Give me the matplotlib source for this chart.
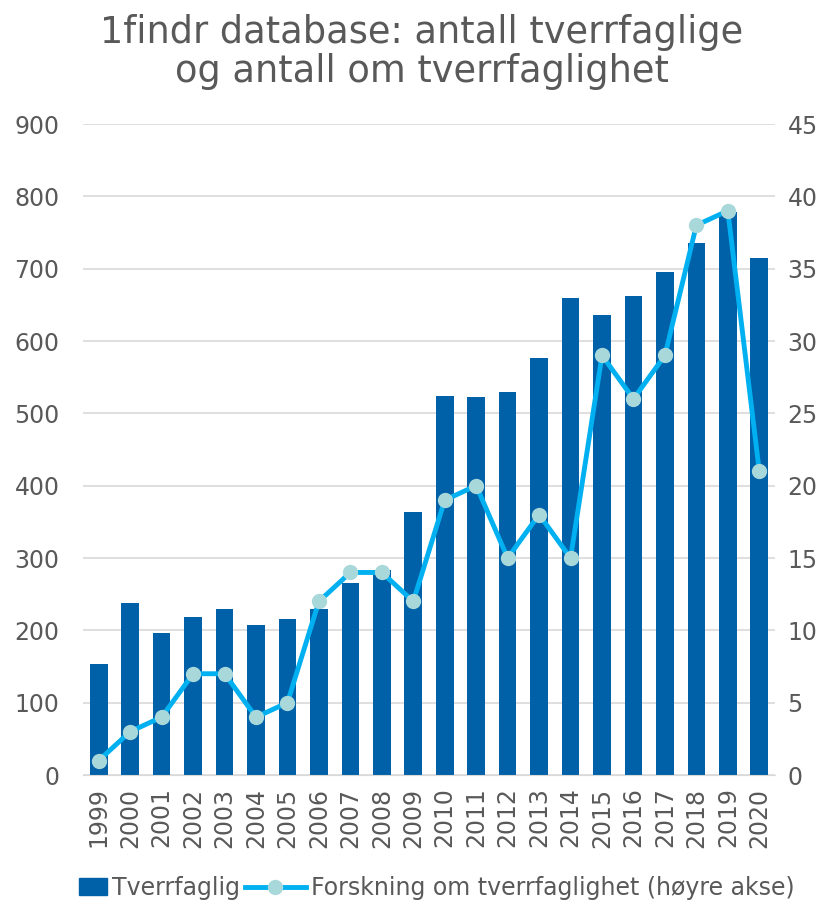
import numpy as np
import matplotlib.pyplot as plt
from matplotlib.lines import Line2D
from matplotlib.patches import Patch, Rectangle
from matplotlib.legend_handler import HandlerPatch

years = [str(y) for y in range(1999, 2021)]
tverrfaglig = [153, 238, 197, 219, 229, 208, 216, 229, 265, 283, 364,
               524, 522, 530, 577, 660, 636, 662, 695, 736, 779, 715]
forskning = [1, 3, 4, 7, 7, 4, 5, 12, 14, 14, 12,
             19, 20, 15, 18, 15, 29, 26, 29, 38, 39, 21]

gray = '#595959'
bar_color = '#0060A8'
line_color = '#00B0F0'
marker_color = '#A9D8DA'

fig = plt.figure(figsize=(8.31, 9.05), dpi=100)
ax = fig.add_axes([83 / 831, 130 / 905, 692 / 831, 651 / 905])
ax2 = ax.twinx()

x = np.arange(len(years))
ax.bar(x, tverrfaglig, width=0.56, color=bar_color, zorder=2)
ax2.plot(x, forskning, color=line_color, lw=3.5, marker='o', markersize=10,
         markerfacecolor=marker_color, markeredgecolor=marker_color, zorder=3)

ax.set_xlim(-0.5, len(years) - 0.5)
ax.set_ylim(0, 900)
ax2.set_ylim(0, 45)
ax.set_yticks(np.arange(0, 901, 100))
ax2.set_yticks(np.arange(0, 46, 5))
ax.set_xticks(x)
ax.set_xticklabels(years, rotation=90)

ax.grid(axis='y', color='#D9D9D9', lw=1.2, zorder=0)
ax.set_axisbelow(True)
for a in (ax, ax2):
    for s in a.spines.values():
        s.set_visible(False)
    a.tick_params(length=0, colors=gray, labelsize=17)
ax.spines['bottom'].set_visible(True)
ax.spines['bottom'].set_color('#D9D9D9')
ax.tick_params(axis='y', pad=17)
ax2.tick_params(axis='y', pad=9)
ax.tick_params(axis='x', pad=9)

fig.text(422 / 831, 1 - 14 / 905, '1findr database: antall tverrfaglige\nog antall om tverrfaglighet',
         ha='center', va='top', fontsize=26.5, color=gray, linespacing=1.08)


# narrow box for the bar entry, like the original legend
def narrow_rect(legend, orig_handle, xdescent, ydescent, width, height, fontsize):
    w = width * 0.45
    return Rectangle((-xdescent + width - w, -ydescent), w, height)


handles = [Patch(color=bar_color),
           Line2D([], [], color=line_color, lw=3.5, marker='o', markersize=10,
                  markerfacecolor=marker_color, markeredgecolor=marker_color)]
fig.legend(handles, ['Tverrfaglig', 'Forskning om tverrfaglighet (høyre akse)'],
           loc='center', bbox_to_anchor=(420 / 831, 1 - 888 / 905), ncol=2,
           frameon=False, fontsize=17, labelcolor=gray, handlelength=2.6,
           handletextpad=0.2, columnspacing=0.2,
           handler_map={Patch: HandlerPatch(patch_func=narrow_rect)})

fig.savefig('out.png')
